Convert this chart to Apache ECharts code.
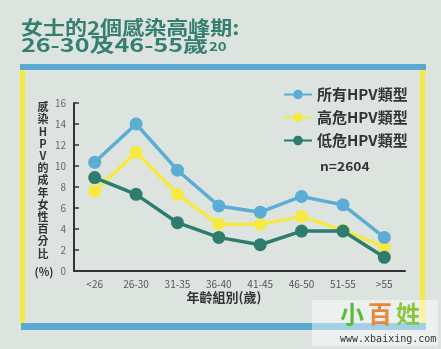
<!DOCTYPE html>
<html>
<head>
<meta charset="utf-8">
<script src="https://cdn.jsdelivr.net/npm/echarts@6/dist/echarts.min.js"></script>
<style>
html,body{margin:0;padding:0;background:#dde4e0;}
#c{width:441px;height:349px;}
</style>
</head>
<body>
<div id="c"></div>
<script>
var categories = ['<26', '26-30', '31-35', '36-40', '41-45', '46-50', '51-55', '>55'];
var seriesNames = ['所有HPV類型', '高危HPV類型', '低危HPV類型'];
var allHPV = [10.35, 14.0, 9.6, 6.2, 5.6, 7.1, 6.3, 3.2];
var highRisk = [7.6, 11.3, 7.3, 4.45, 4.45, 5.2, 3.9, 2.3];
var lowRisk = [8.9, 7.3, 4.6, 3.2, 2.5, 3.8, 3.8, 1.3];
var yTicks = [0, 2, 4, 6, 8, 10, 12, 14, 16];
var yNameChars = ['感', '染', 'H', 'P', 'V', '的', '成', '年', '女', '性', '百', '分', '比'];

var FONT = '"Noto Sans CJK TC", "Noto Sans", sans-serif';
var chart = echarts.init(document.getElementById('c'), null, {renderer: 'canvas'});
var colors = ['#5badd3', '#f6e944', '#2e7c6e'];

function mkSeries(name, data, color, z) {
  return {
    name: name, type: 'line', data: data, z: z,
    symbol: 'circle', symbolSize: 13,
    lineStyle: {color: color, width: 3.5},
    itemStyle: {color: color},
    emphasis: {disabled: true}
  };
}

chart.setOption({
  backgroundColor: '#dde4e0',
  animation: false,
  textStyle: {fontFamily: FONT},
  grid: {left: 74, right: 36, top: 103, bottom: 78, containLabel: false},
  legend: {
    orient: 'vertical', left: 283, top: 87, padding: 0,
    itemWidth: 28, itemHeight: 12, itemGap: 8,
    data: seriesNames,
    textStyle: {fontSize: 15, fontWeight: 'bold', color: '#333', fontFamily: FONT}
  },
  xAxis: {
    type: 'category', data: categories, boundaryGap: true,
    axisLine: {lineStyle: {color: '#333', width: 2}},
    axisTick: {inside: true, length: 6, lineStyle: {color: '#333', width: 1.5}},
    axisLabel: {color: '#555', fontSize: 10, margin: 8, fontFamily: FONT}
  },
  yAxis: {
    type: 'value', min: yTicks[0], max: yTicks[yTicks.length - 1], interval: 2,
    axisLine: {show: true, lineStyle: {color: '#333', width: 2}},
    axisTick: {show: true, inside: true, length: 5, lineStyle: {color: '#333', width: 1.5}},
    axisLabel: {color: '#666', fontSize: 10, margin: 8, fontFamily: FONT},
    splitLine: {show: false}
  },
  series: [
    mkSeries(seriesNames[0], allHPV, colors[0], 4),
    mkSeries(seriesNames[1], highRisk, colors[1], 2),
    mkSeries(seriesNames[2], lowRisk, colors[2], 3)
  ],
  graphic: [
    // frame
    {type: 'rect', shape: {x: 20, y: 64, width: 406, height: 6}, style: {fill: '#5aa9cf'}, silent: true},
    {type: 'rect', shape: {x: 20, y: 70, width: 5, height: 254}, style: {fill: '#f6e944'}, silent: true},
    {type: 'rect', shape: {x: 420, y: 70, width: 5, height: 254}, style: {fill: '#f6e944'}, silent: true},
    {type: 'rect', shape: {x: 21, y: 323, width: 405, height: 7}, style: {fill: '#5aa9cf'}, silent: true},
    // title
    {type: 'text', left: 21, top: 18, scaleX: 1.16,
      style: {text: '女士的2個感染高峰期:', font: 'bold 19px ' + FONT, fill: '#357f70'}},
    {type: 'text', left: 21, top: 35, scaleX: 1.32,
      style: {text: '26-30及46-55歲', font: 'bold 19px ' + FONT, fill: '#357f70'}},
    {type: 'text', left: 209, top: 40, scaleX: 1.25,
      style: {text: '20', font: 'bold 12px ' + FONT, fill: '#357f70'}},
    // y axis name (vertical)
    {type: 'text', x: 43, y: 101,
      style: {text: yNameChars.join('\n'), font: 'bold 11px ' + FONT, fill: '#333',
        textAlign: 'center', lineHeight: 12.2}},
    {type: 'text', x: 44, y: 266,
      style: {text: '(%)', font: 'bold 11px ' + FONT, fill: '#333', textAlign: 'center'}},
    // x axis name
    {type: 'text', x: 224, y: 291,
      style: {text: '年齡組別(歲)', font: 'bold 13px ' + FONT, fill: '#333', textAlign: 'center'}},
    // sample size
    {type: 'text', left: 320, top: 160, scaleX: 1.15,
      style: {text: 'n=2604', font: 'bold 12px ' + FONT, fill: '#333'}},
    // watermark
    {type: 'rect', shape: {x: 312, y: 300, width: 126, height: 46},
      style: {fill: 'rgba(255,255,255,0.45)'}, silent: true},
    {type: 'text', x: 340, y: 302,
      style: {text: '小', font: 'bold 24px ' + FONT, fill: '#5dbb3c'}},
    {type: 'text', x: 368, y: 302,
      style: {text: '百', font: 'bold 24px ' + FONT, fill: '#e8873a'}},
    {type: 'text', x: 396, y: 302,
      style: {text: '姓', font: 'bold 24px ' + FONT, fill: '#8cc63e'}},
    {type: 'text', x: 340, y: 334,
      style: {text: 'www.xbaixing.com', font: '10px "DejaVu Sans Mono", monospace', fill: '#333'}}
  ]
});
</script>
</body>
</html>
